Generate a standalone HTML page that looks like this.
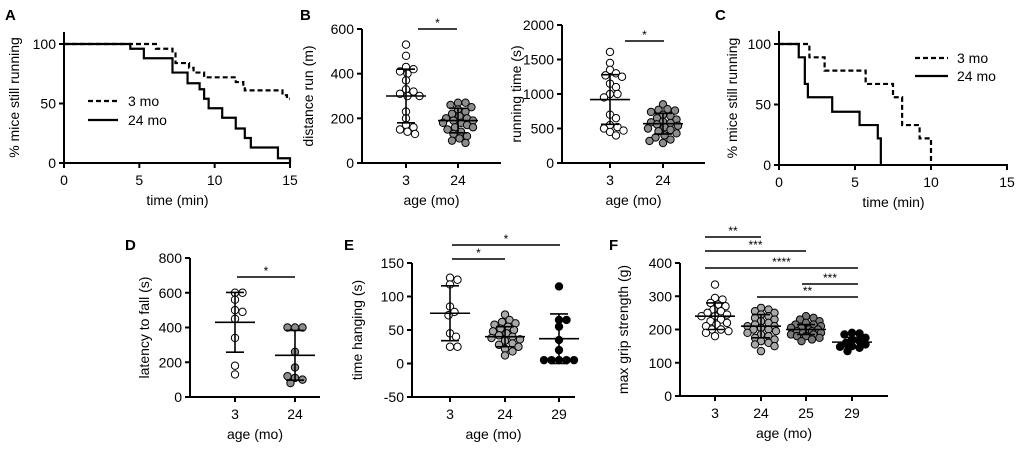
<!DOCTYPE html>
<html><head><meta charset="utf-8"><style>
html,body{margin:0;padding:0;background:#fff}
svg{display:block;font-family:"Liberation Sans",Arial,sans-serif}
</style></head><body>
<svg id="fig" width="1020" height="455" viewBox="0 0 1020 455"></svg>
<script>
// ---- Data ----
const kmA_t3=[0,6.1,7.2,7.4,8.3,8.6,9.3,11.4,11.9,12.0,14.5,14.8];
const kmA_v3=[100,96,92,84,80,76,72,68,64,61,57,54];
const kmA_t24=[0,4.4,5.3,7.2,8.2,9.0,9.3,9.6,10.5,11.4,12.0,12.4,14.2,15];
const kmA_v24=[100,96,88,76,67,62,54,46,38,29,21,13,4,0];
const kmC_t3=[0,2.0,3.0,5.7,7.5,8.1,9.25,10];
const kmC_v3=[100,89,78,67,56,33,22,0];
const kmC_t24=[0,1.3,1.7,1.9,3.5,5.3,6.5,6.7];
const kmC_v24=[100,89,67,56,44,33,22,0];
const kmTicksX=[0,5,10,15];
const kmTicksY=[0,50,100];

const b1_3=[530,480,430,420,410,400,370,330,320,310,300,300,230,200,170,160,150,140,130];
const b1_24=[270,270,260,250,240,230,220,210,200,200,190,190,180,180,170,160,160,150,140,130,120,110,100,90];
const b1_mean=[300,190], b1_sd=[120,55];
const b2_3=[1610,1450,1350,1300,1270,1250,1150,1100,1000,1000,950,700,650,550,520,500,470,450,400];
const b2_24=[850,780,770,760,740,700,680,650,630,600,590,580,560,540,520,500,480,460,430,400,370,340,320,290];
const b2_mean=[920,570], b2_sd=[360,150];
const d_3=[600,600,560,500,490,450,340,180,130];
const d_24=[400,400,400,260,170,110,100,120,80];
const d_mean=[430,240], d_sd=[172,143];
const e_3=[128,125,118,85,77,72,45,40,25,25];
const e_24=[73,65,62,60,58,55,52,50,48,45,42,40,38,36,34,30,28,25,22,18,12];
const e_29=[115,65,65,55,35,20,5,5,5,5,5];
const e_mean=[75,40,37], e_sd=[41,15,37];
const f_3=[335,295,290,280,275,270,260,255,250,245,240,240,230,225,220,215,210,200,200,195,190,180];
const f_24=[265,260,255,250,245,240,235,230,225,220,215,210,210,205,200,200,195,190,185,180,175,170,165,160,155,150,135];
const f_25=[240,235,230,225,220,215,215,210,205,205,200,200,195,195,190,190,185,185,180,180,175,170,165];
const f_29=[190,188,185,175,170,165,160,155,150,148,145,135];
const f_mean=[240,210,200,162], f_sd=[40,35,15,14];

const svg=document.getElementById('fig');
const NS='http://www.w3.org/2000/svg';
function el(tag,attrs,parent){const e=document.createElementNS(NS,tag);for(const k in attrs)e.setAttribute(k,attrs[k]);(parent||svg).appendChild(e);return e;}
function txt(x,y,s,size,anchor,parent,rot){const t=el('text',{x:x,y:y,'font-size':size,'text-anchor':anchor||'middle',fill:'#000'},parent);if(rot)t.setAttribute('transform','rotate(-90 '+x+' '+y+')');t.textContent=s;return t;}
function lin(d0,d1,r0,r1){return v=>r0+(v-d0)*(r1-r0)/(d1-d0);}
function grp(name){const g=el('g',{});return g;}
function axes(g,x0,x1,yTop,yBot,yTicks,ys,xTicks,xs,xLabels,xTitle,yTitle,yTitleX){
  el('line',{x1:x0,y1:yTop,x2:x0,y2:yBot+1,stroke:'#000','stroke-width':2},g);
  el('line',{x1:x0-1,y1:yBot,x2:x1,y2:yBot,stroke:'#000','stroke-width':2},g);
  yTicks.forEach(v=>{const y=ys(v);el('line',{x1:x0-5,y1:y,x2:x0,y2:y,stroke:'#000','stroke-width':2},g);txt(x0-8,y+5,String(v),14,'end',g);});
  xTicks.forEach((v,i)=>{const x=xs(v);el('line',{x1:x,y1:yBot,x2:x,y2:yBot+5,stroke:'#000','stroke-width':2},g);txt(x,yBot+22,xLabels?xLabels[i]:String(v),14,'middle',g);});
  txt((x0+x1)/2,yBot+42,xTitle,14,'middle',g);
  txt(yTitleX,(yTop+yBot)/2,yTitle,14,'middle',g,true);
}
function km(g,ts,vs,xs,ys,tEnd,dash,name){
  let d='M'+xs(ts[0])+' '+ys(vs[0]);
  for(let i=1;i<ts.length;i++){d+=' H'+xs(ts[i])+' V'+ys(vs[i]);}
  d+=' H'+xs(tEnd);
  const p=el('path',{d:d,fill:'none',stroke:'#000','stroke-width':2.2,'stroke-dasharray':dash?'5,3':'none'},g);
  
  
}
function swarm(g,vals,cx,ys,fill,name){
  const r=3.7,placed=[],maxW=16;
  vals.forEach(v=>{
    const y=ys(v);let best=0,bestOv=1e9;
    for(let k=0;k<40;k++){const c=(k%2?1:-1)*Math.ceil(k/2)*1.5;if(Math.abs(c)>maxW)break;const x=cx+c;
      let ov=0;placed.forEach(p=>{const dd=Math.hypot(p[0]-x,p[1]-y);if(dd<2*r-0.8)ov+=2*r-dd;});
      if(ov<bestOv-0.01){bestOv=ov;best=c;}if(ov===0)break;}
    placed.push([cx+best,y]);
    const c=el('circle',{cx:cx+best,cy:y,r:r,fill:fill,stroke:'#000','stroke-width':1},g);
    
    
  });
}
function msd(g,cx,m,s,ys,w){
  el('line',{x1:cx-w,x2:cx+w,y1:ys(m),y2:ys(m),stroke:'#000','stroke-width':1.6},g);
  el('line',{x1:cx,x2:cx,y1:ys(m-s),y2:ys(m+s),stroke:'#000','stroke-width':1.6},g);
  [m-s,m+s].forEach(v=>el('line',{x1:cx-9,x2:cx+9,y1:ys(v),y2:ys(v),stroke:'#000','stroke-width':1.6},g));
}
function sig(g,xa,xb,y,stars){
  el('line',{x1:xa,x2:xb,y1:y,y2:y,stroke:'#000','stroke-width':1.4},g);
  txt((xa+xb)/2,y-2,stars,12,'middle',g);
}
function letter(x,y,s){const t=txt(x,y,s,15,'start');t.setAttribute('font-weight','bold');}

letter(5,20,'A');
(function(){const g=grp('panel-a');const xs=lin(0,15,64,290),ys=lin(0,100,163,44);
axes(g,64,291,32,163,kmTicksY,ys,kmTicksX,xs,null,'time (min)','% mice still running',19);
km(g,kmA_t3,kmA_v3,xs,ys,15,true,'survival-3mo');km(g,kmA_t24,kmA_v24,xs,ys,15,false,'survival-24mo');
el('line',{x1:88,x2:118,y1:101,y2:101,stroke:'#000','stroke-width':2.2,'stroke-dasharray':'5,3'},g);txt(128,106,'3 mo',14,'start',g);
el('line',{x1:88,x2:118,y1:120,y2:120,stroke:'#000','stroke-width':2.2},g);txt(128,125,'24 mo',14,'start',g);})();

letter(300,20,'B');
(function(){const g=grp('panel-b-distance');const ys=lin(0,600,163,29);const cx=[406,458];
axes(g,362,501,29,163,[0,200,400,600],ys,[0,1],i=>cx[i],['3','24'],'age (mo)','distance run (m)',313);
swarm(g,b1_3,cx[0],ys,'#fff','dot-3mo');swarm(g,b1_24,cx[1],ys,'#8c8c8c','dot-24mo');
msd(g,cx[0],b1_mean[0],b1_sd[0],ys,20);msd(g,cx[1],b1_mean[1],b1_sd[1],ys,20);
sig(g,418,457,29,'*');})();

(function(){const g=grp('panel-b-time');const ys=lin(0,2000,163,25);const cx=[610,663];
axes(g,562,705,25,163,[0,500,1000,1500,2000],ys,[0,1],i=>cx[i],['3','24'],'age (mo)','running time (s)',521);
swarm(g,b2_3,cx[0],ys,'#fff','dot-3mo');swarm(g,b2_24,cx[1],ys,'#8c8c8c','dot-24mo');
msd(g,cx[0],b2_mean[0],b2_sd[0],ys,20);msd(g,cx[1],b2_mean[1],b2_sd[1],ys,20);
sig(g,625,664,41,'*');})();

letter(715,20,'C');
(function(){const g=grp('panel-c');const xs=lin(0,15,779,1007),ys=lin(0,100,165,44);
axes(g,779,1008,31,165,kmTicksY,ys,kmTicksX,xs,null,'time (min)','% mice still running',737);
km(g,kmC_t3,kmC_v3,xs,ys,10,true,'survival-3mo');km(g,kmC_t24,kmC_v24,xs,ys,6.7,false,'survival-24mo');
el('line',{x1:915,x2:948,y1:58,y2:58,stroke:'#000','stroke-width':2.2,'stroke-dasharray':'5,3'},g);txt(957,63,'3 mo',14,'start',g);
el('line',{x1:915,x2:948,y1:76,y2:76,stroke:'#000','stroke-width':2.2},g);txt(957,81,'24 mo',14,'start',g);})();

letter(125,250,'D');
(function(){const g=grp('panel-d');const ys=lin(0,800,397,258);const cx=[235,295];
axes(g,190,320,258,397,[0,200,400,600,800],ys,[0,1],i=>cx[i],['3','24'],'age (mo)','latency to fall (s)',149);
swarm(g,d_3,cx[0],ys,'#fff','dot-3mo');swarm(g,d_24,cx[1],ys,'#8c8c8c','dot-24mo');
msd(g,cx[0],d_mean[0],d_sd[0],ys,20);msd(g,cx[1],d_mean[1],d_sd[1],ys,20);
sig(g,237,295,277,'*');})();

letter(344,250,'E');
(function(){const g=grp('panel-e');const ys=lin(-50,150,397,263);const cx=[450,505,559];
axes(g,412,575,263,397,[-50,0,50,100,150],ys,[0,1,2],i=>cx[i],['3','24','29'],'age (mo)','time hanging (s)',362);
swarm(g,e_3,cx[0],ys,'#fff','dot-3mo');swarm(g,e_24,cx[1],ys,'#a8a8a8','dot-24mo');swarm(g,e_29,cx[2],ys,'#000','dot-29mo');
for(let i=0;i<3;i++)msd(g,cx[i],e_mean[i],e_sd[i],ys,20);
sig(g,452,505,259,'*');sig(g,452,560,245,'*');})();

letter(609,250,'F');
(function(){const g=grp('panel-f');const ys=lin(0,400,396,263);const cx=[715,761,806,852];
axes(g,680,888,263,396,[0,100,200,300,400],ys,[0,1,2,3],i=>cx[i],['3','24','25','29'],'age (mo)','max grip strength (g)',628);
swarm(g,f_3,cx[0],ys,'#fff','dot-3mo');swarm(g,f_24,cx[1],ys,'#a8a8a8','dot-24mo');swarm(g,f_25,cx[2],ys,'#777','dot-25mo');swarm(g,f_29,cx[3],ys,'#000','dot-29mo');
for(let i=0;i<4;i++)msd(g,cx[i],f_mean[i],f_sd[i],ys,20);
sig(g,705,761,237,'**');sig(g,705,806,251,'***');sig(g,705,858,268,'****');sig(g,802,858,284,'***');sig(g,757,858,297,'**');})();
</script>
</body></html>
